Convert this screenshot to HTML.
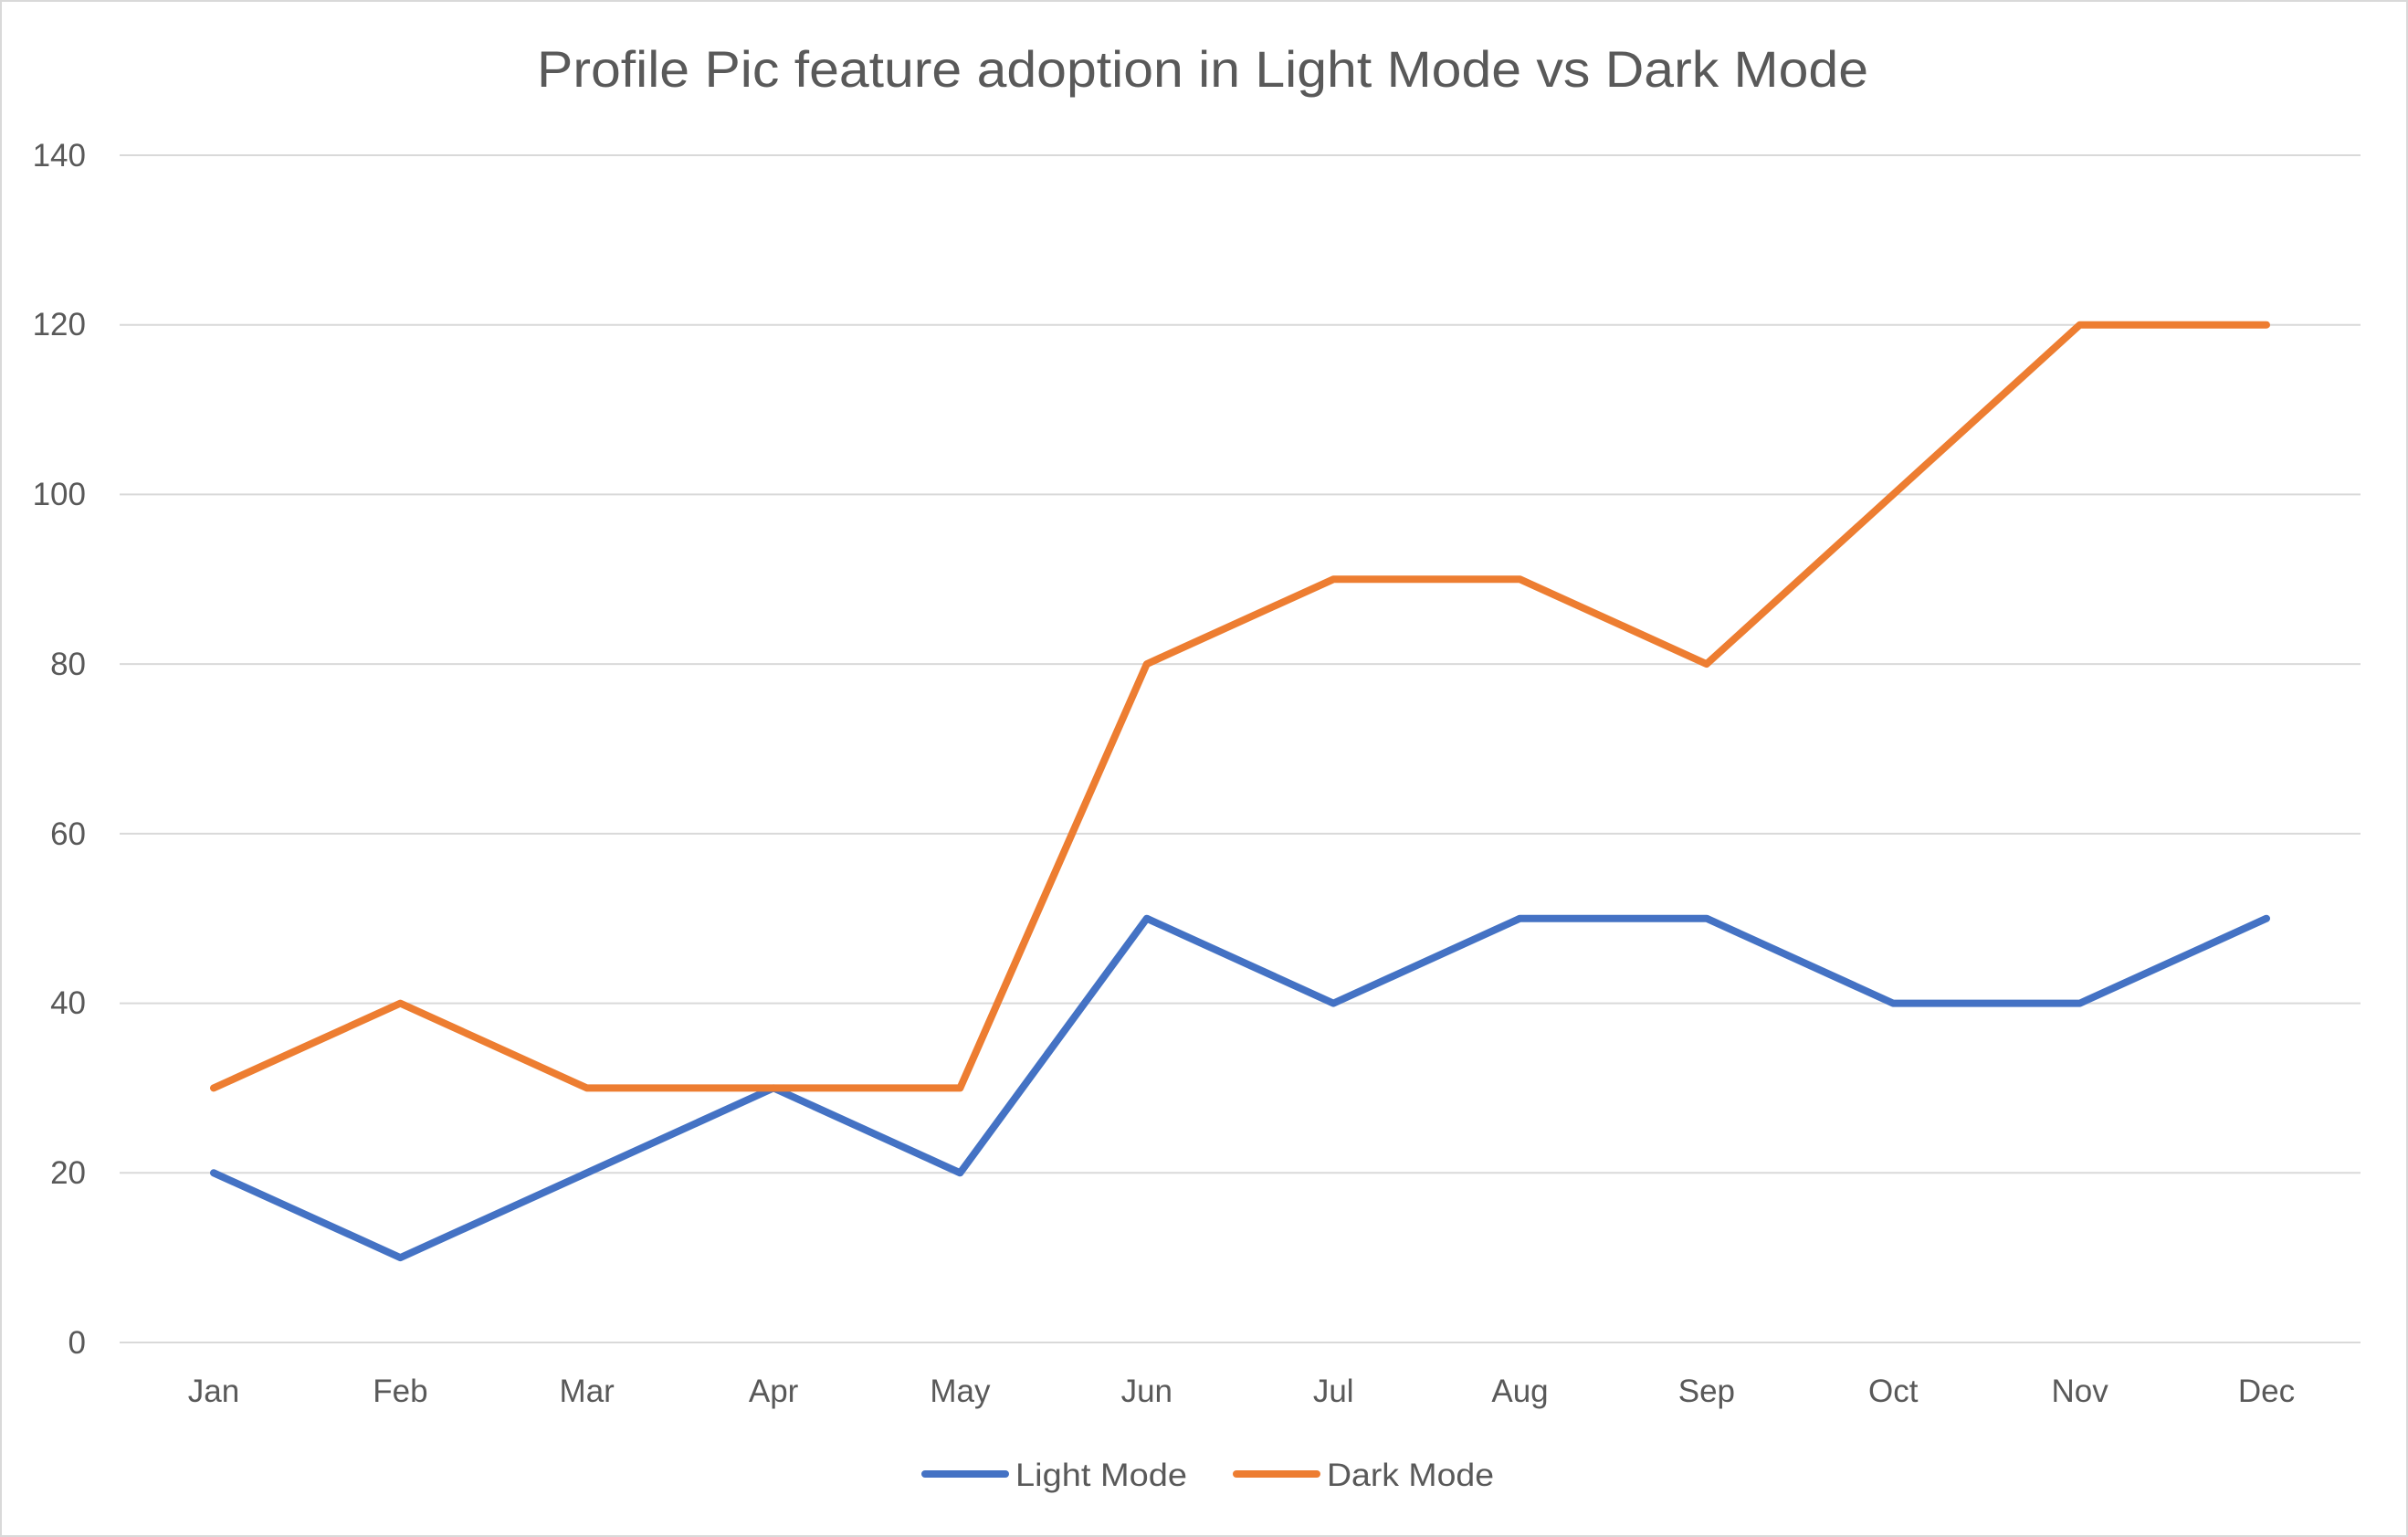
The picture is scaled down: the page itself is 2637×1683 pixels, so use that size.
<!DOCTYPE html>
<html><head><meta charset="utf-8"><style>
html,body{margin:0;padding:0;background:#fff;}
svg{display:block;}
text{font-family:"Liberation Sans",sans-serif;fill:#595959;}
</style></head><body>
<svg width="2637" height="1683" viewBox="0 0 2637 1683" xmlns="http://www.w3.org/2000/svg">
<rect x="1" y="1" width="2635" height="1681" fill="#fff" stroke="#d9d9d9" stroke-width="2"/>
<text x="1317" y="95" font-size="56" text-anchor="middle" textLength="1458" lengthAdjust="spacingAndGlyphs">Profile Pic feature adoption in Light Mode vs Dark Mode</text>
<g stroke="#d9d9d9" stroke-width="2">
<line x1="131" y1="170" x2="2585" y2="170"/>
<line x1="131" y1="355.7" x2="2585" y2="355.7"/>
<line x1="131" y1="541.4" x2="2585" y2="541.4"/>
<line x1="131" y1="727.1" x2="2585" y2="727.1"/>
<line x1="131" y1="912.9" x2="2585" y2="912.9"/>
<line x1="131" y1="1098.6" x2="2585" y2="1098.6"/>
<line x1="131" y1="1284.3" x2="2585" y2="1284.3"/>
<line x1="131" y1="1470" x2="2585" y2="1470"/>
</g>
<g font-size="35" text-anchor="end">
<text x="94" y="182">140</text>
<text x="94" y="367">120</text>
<text x="94" y="553">100</text>
<text x="94" y="739">80</text>
<text x="94" y="925">60</text>
<text x="94" y="1110">40</text>
<text x="94" y="1296">20</text>
<text x="94" y="1482">0</text>
</g>
<g font-size="35" text-anchor="middle">
<text x="234" y="1535">Jan</text>
<text x="438.4" y="1535">Feb</text>
<text x="642.7" y="1535">Mar</text>
<text x="847.1" y="1535">Apr</text>
<text x="1051.4" y="1535">May</text>
<text x="1255.8" y="1535">Jun</text>
<text x="1460.2" y="1535">Jul</text>
<text x="1664.5" y="1535">Aug</text>
<text x="1868.9" y="1535">Sep</text>
<text x="2073.2" y="1535">Oct</text>
<text x="2277.6" y="1535">Nov</text>
<text x="2482" y="1535">Dec</text>
</g>
<polyline fill="none" stroke="#4472C4" stroke-width="8" stroke-linejoin="round" stroke-linecap="round"
points="234,1284.3 438.4,1377.1 642.7,1284.3 847.1,1191.4 1051.4,1284.3 1255.8,1005.7 1460.2,1098.6 1664.5,1005.7 1868.9,1005.7 2073.2,1098.6 2277.6,1098.6 2482,1005.7"/>
<polyline fill="none" stroke="#ED7D31" stroke-width="8" stroke-linejoin="round" stroke-linecap="round"
points="234,1191.4 438.4,1098.6 642.7,1191.4 847.1,1191.4 1051.4,1191.4 1255.8,727.1 1460.2,634.3 1664.5,634.3 1868.9,727.1 2073.2,541.4 2277.6,355.7 2482,355.7"/>
<line x1="1013" y1="1614" x2="1101" y2="1614" stroke="#4472C4" stroke-width="8" stroke-linecap="round"/>
<text x="1112" y="1627" font-size="35" textLength="188" lengthAdjust="spacingAndGlyphs">Light Mode</text>
<line x1="1354" y1="1614" x2="1442" y2="1614" stroke="#ED7D31" stroke-width="8" stroke-linecap="round"/>
<text x="1453" y="1627" font-size="35" textLength="183" lengthAdjust="spacingAndGlyphs">Dark Mode</text>
</svg>
</body></html>
